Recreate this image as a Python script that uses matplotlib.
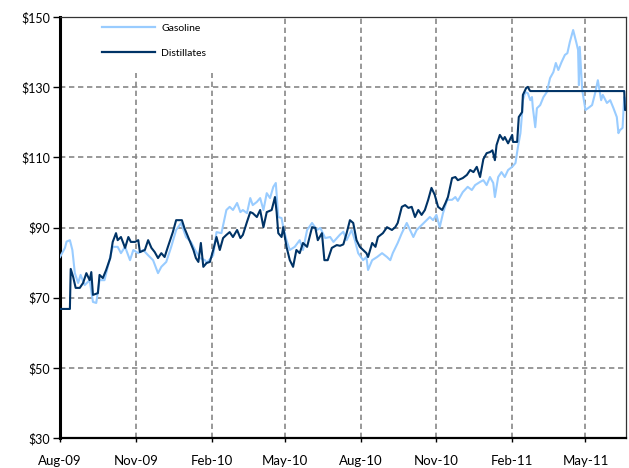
import datetime as dt

import matplotlib
matplotlib.use("Agg")
import matplotlib.dates as mdates
import matplotlib.pyplot as plt
from matplotlib.patches import Rectangle
from matplotlib.ticker import FuncFormatter

# --- Data ($ per barrel) -----------------------------------------------------
START = dt.date(2009, 8, 1)
END_DAY = 687  # last day shown, counted from START

gas_days = [
    0, 6, 8, 12, 15, 18, 22, 25, 30, 36, 40, 44, 48, 54, 58, 64, 70, 74, 79, 85,
    89, 95, 101, 107, 113, 119, 123, 129, 135, 141, 147, 153, 159, 164, 170, 176,
    178, 186, 190, 196, 202, 206, 210, 215, 219, 222, 227, 231, 234, 239, 243,
    247, 251, 255, 259, 262, 265, 269, 271, 275, 279, 285, 291, 295, 300, 306,
    312, 316, 322, 328, 332, 340, 344, 348, 354, 358, 362, 368, 372, 374, 379,
    385, 391, 397, 401, 404, 410, 415, 421, 425, 429, 433, 439, 445, 449, 453,
    457, 461, 465, 470, 476, 480, 483, 489, 495, 500, 504, 510, 514, 518, 522,
    526, 528, 532, 536, 540, 544, 549, 553, 556, 559, 561, 562, 565, 568, 571,
    573, 574, 577, 579, 583, 587, 591, 595, 599, 602, 605, 609, 613, 616, 619,
    623, 627, 629, 630, 631, 634, 638, 641, 646, 650, 653, 657, 659, 664, 668,
    672, 676, 678, 680, 683, 685, 687,
]
gas_prices = [
    81.6, 84.2, 86.0, 86.4, 83.6, 77.0, 74.2, 76.5, 73.6, 75.0, 68.8, 68.5, 75.0,
    75.0, 78.8, 84.5, 84.5, 82.7, 84.5, 80.7, 83.6, 82.7, 83.6, 82.1, 80.7, 77.0,
    78.8, 80.2, 84.5, 89.3, 91.3, 87.3, 85.9, 83.6, 81.3, 80.7, 79.9, 82.1, 88.7,
    88.4, 95.0, 95.9, 95.0, 97.0, 94.4, 95.0, 94.1, 98.4, 96.4, 97.3, 98.4, 95.0,
    99.8, 98.4, 101.6, 102.7, 93.0, 92.7, 90.1, 86.4, 83.6, 84.5, 86.4, 83.6,
    89.3, 91.3, 89.3, 89.9, 87.0, 87.3, 85.9, 88.0, 88.8, 86.4, 89.3, 86.4, 82.7,
    80.7, 81.6, 77.9, 80.7, 81.6, 82.7, 81.6, 80.7, 82.7, 85.6, 88.4, 91.3, 89.3,
    87.3, 89.3, 90.7, 92.1, 93.0, 92.1, 93.6, 90.1, 94.1, 97.9, 97.9, 98.7, 97.6,
    100.1, 101.6, 100.7, 102.1, 103.0, 103.5, 102.1, 104.4, 102.7, 98.7, 104.4,
    105.8, 104.4, 106.4, 107.3, 108.4, 113.0, 116.9, 122.6, 126.3, 128.6, 128.3,
    126.3, 127.2, 124.3, 118.6, 124.0, 124.9, 127.2, 128.6, 132.6, 134.3, 136.9,
    134.9, 137.2, 139.2, 139.7, 142.9, 146.3, 142.6, 140.6, 130.6, 141.5, 129.2,
    123.5, 124.0, 124.9, 128.6, 132.0, 126.3, 127.8, 125.5, 126.3, 124.0, 121.5,
    116.9, 117.8, 118.4, 127.2, 126.0,
]

dist_days = [
    0, 12, 13, 16, 19, 24, 28, 32, 36, 38, 40, 46, 48, 52, 56, 61, 64, 68, 70, 74,
    79, 83, 86, 91, 95, 97, 103, 107, 111, 115, 119, 123, 127, 131, 137, 141, 148,
    151, 158, 162, 165, 168, 171, 174, 178, 182, 186, 190, 194, 198, 202, 206,
    210, 215, 219, 222, 227, 231, 234, 239, 243, 247, 251, 257, 261, 263, 265,
    269, 271, 275, 279, 283, 287, 291, 295, 300, 306, 310, 313, 318, 321, 325,
    330, 336, 340, 344, 348, 352, 356, 360, 364, 368, 372, 374, 379, 383, 386,
    392, 397, 403, 407, 410, 415, 419, 423, 427, 431, 435, 439, 443, 447, 451,
    455, 459, 464, 468, 471, 476, 480, 483, 489, 494, 498, 502, 506, 510, 514,
    518, 522, 525, 528, 530, 534, 538, 540, 544, 549, 550, 555, 557, 561, 562,
    566, 568, 570, 571, 685, 686, 687,
]
dist_prices = [
    66.8, 66.8, 78.2, 75.9, 72.8, 72.8, 74.2, 77.0, 75.0, 77.3, 70.8, 71.3, 76.5,
    75.6, 77.9, 81.3, 85.9, 88.4, 86.4, 87.3, 84.2, 87.3, 85.9, 85.9, 86.4, 83.0,
    83.6, 86.4, 84.2, 83.0, 81.3, 82.7, 81.6, 84.5, 88.7, 92.1, 92.1, 89.9, 85.9,
    83.6, 81.3, 80.2, 85.6, 78.8, 79.9, 80.2, 83.6, 87.3, 83.6, 87.0, 87.9, 88.7,
    87.3, 89.3, 87.0, 87.9, 91.6, 94.4, 94.1, 93.0, 95.0, 90.1, 94.4, 95.0, 98.7,
    94.4, 88.4, 87.3, 90.1, 84.5, 80.7, 78.8, 83.6, 82.7, 85.6, 84.5, 90.1, 89.9,
    86.4, 88.4, 80.7, 80.7, 84.2, 85.0, 84.8, 85.2, 88.4, 92.1, 91.3, 86.4, 84.5,
    83.6, 82.7, 81.6, 85.6, 84.5, 87.3, 88.4, 90.1, 89.3, 90.1, 91.3, 95.9, 96.4,
    95.6, 95.9, 93.0, 95.0, 93.6, 95.0, 97.9, 101.3, 99.3, 95.9, 95.0, 97.0, 98.7,
    104.1, 104.4, 103.5, 104.1, 105.0, 106.4, 105.8, 107.3, 104.4, 109.5, 111.2,
    111.5, 112.0, 109.2, 113.5, 116.4, 115.0, 115.8, 114.0, 116.4, 114.4, 114.4,
    121.5, 122.9, 127.8, 129.8, 130.1, 129.2, 128.9, 128.9, 123.5, 123.5,
]

y_ticks = [30, 50, 70, 90, 110, 130, 150]


def to_dates(days):
    return [START + dt.timedelta(days=d) for d in days]


# --- Figure ------------------------------------------------------------------
plt.rcParams["font.family"] = ["Lato", "DejaVu Sans"]

fig = plt.figure(figsize=(6.29, 4.68), dpi=100, facecolor="white")
ax = fig.add_axes([0.0954, 0.064, 0.8996, 0.8996])

gas_color = "#99CCFF"
dist_color = "#003366"
grid_color = "#888888"

ax.plot(to_dates(gas_days), gas_prices, color=gas_color, lw=1.5,
        label="Gasoline", zorder=3)
ax.plot(to_dates(dist_days), dist_prices, color=dist_color, lw=1.5,
        label="Distillates", zorder=4)

ax.set_xlim(START, START + dt.timedelta(days=END_DAY))
ax.set_ylim(30, 150)
ax.set_yticks(y_ticks)
ax.yaxis.set_major_formatter(FuncFormatter(lambda v, _: f"${v:.0f}"))
ax.xaxis.set_major_locator(mdates.MonthLocator(bymonth=[2, 5, 8, 11]))
ax.xaxis.set_major_formatter(mdates.DateFormatter("%b-%y"))

ax.set_axisbelow(True)
ax.grid(True, color=grid_color, lw=1.2, ls=(0, (3.2, 2.2)))

ax.spines["left"].set_color("black")
ax.spines["left"].set_linewidth(2.2)
ax.spines["bottom"].set_color("black")
ax.spines["bottom"].set_linewidth(1.6)
for side in ["top", "right"]:
    ax.spines[side].set_color("#333333")
    ax.spines[side].set_linewidth(0.9)

ax.tick_params(axis="y", direction="out", length=5, width=1.0, pad=2,
               labelsize=9, colors="black")
ax.tick_params(axis="x", direction="out", length=3, width=1.0, pad=9,
               labelsize=9.5, colors="black")

# white box behind the legend hides the grid there
ax.add_patch(Rectangle((0, 0.867), 0.29, 0.133, transform=ax.transAxes,
                       facecolor="white", edgecolor="none", zorder=1.5))

leg = ax.legend(loc="upper left", bbox_to_anchor=(0.074, 0.985), frameon=False,
                fontsize=7.5, handlelength=5.1, handletextpad=0.6,
                labelspacing=1.5, borderpad=0, borderaxespad=0)
for line in leg.get_lines():
    line.set_linewidth(1.6)

fig.savefig("out.png", dpi=100, facecolor=fig.get_facecolor())
